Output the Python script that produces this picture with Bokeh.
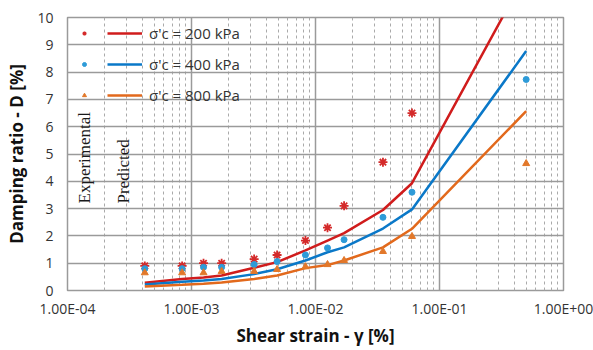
import math
from bokeh.plotting import figure
from bokeh.models import (FixedTicker, CustomJSTickFormatter, Legend, LegendItem,
                          Label, Range1d)
from bokeh.embed import file_html
from bokeh.resources import INLINE

# ---- data ----
strain = [4.2e-4, 8.4e-4, 1.25e-3, 1.75e-3, 3.2e-3, 4.9e-3, 8.3e-3,
          1.25e-2, 1.7e-2, 3.5e-2, 6.0e-2, 0.5]
strain_exp200 = strain[:11]

exp_200 = [0.9, 0.9, 1.0, 1.0, 1.15, 1.3, 1.83, 2.3, 3.1, 4.7, 6.5]
exp_400 = [0.8, 0.8, 0.85, 0.85, 0.95, 1.06, 1.3, 1.56, 1.86, 2.68, 3.6, 7.73]
exp_800 = [0.65, 0.65, 0.65, 0.7, 0.7, 0.77, 0.87, 0.95, 1.1, 1.43, 1.98, 4.65]

pred_200 = [0.28, 0.42, 0.48, 0.55, 0.83, 1.04, 1.47, 1.83, 2.1, 2.95, 3.93, 11.6]
pred_400 = [0.22, 0.32, 0.37, 0.42, 0.6, 0.78, 1.1, 1.4, 1.58, 2.27, 2.97, 8.77]
pred_800 = [0.15, 0.21, 0.25, 0.29, 0.42, 0.55, 0.82, 0.93, 1.1, 1.58, 2.26, 6.57]

series_labels = ["σ'c = 200 kPa", "σ'c = 400 kPa", "σ'c = 800 kPa"]
x_major = [1e-4, 1e-3, 1e-2, 1e-1, 1.0]
y_major = [0, 1, 2, 3, 4, 5, 6, 7, 8, 9, 10]
x_minor = [m * d for d in [1e-4, 1e-3, 1e-2, 1e-1] for m in range(2, 10)]

RED, BLUE, ORANGE = "#D01C1C", "#0A78C8", "#E2691C"
RED_M, BLUE_M, ORANGE_M = "#D42A2A", "#2E9BD8", "#E2782A"

p = figure(width=593, height=350, x_axis_type="log",
           x_range=Range1d(1e-4, 1.0), y_range=Range1d(0, 10),
           output_backend="svg", toolbar_location=None,
           min_border_left=67, min_border_right=30,
           min_border_top=17, min_border_bottom=60)

p.outline_line_color = "#9A9A9A"
p.outline_line_width = 1.5

# axes
p.xaxis.ticker = FixedTicker(ticks=x_major, minor_ticks=x_minor)
p.yaxis.ticker = FixedTicker(ticks=y_major, minor_ticks=[])
p.xaxis.formatter = CustomJSTickFormatter(code=r"""
const s = tick.toExponential(2).toUpperCase();
return s.replace(/E([+-])(\d)$/, (m, a, b) => "E" + a + "0" + b);
""")
for ax in (p.xaxis[0], p.yaxis[0]):
    ax.axis_line_color = None
    ax.major_tick_line_color = None
    ax.minor_tick_line_color = None
    ax.major_tick_out = 0
    ax.major_tick_in = 0
    ax.minor_tick_out = 0
    ax.minor_tick_in = 0
    ax.major_label_text_font = "Open Sans"
    ax.major_label_text_font_size = "14px"
    ax.major_label_text_color = "#333333"
    ax.axis_label_text_font = "Open Sans"
    ax.axis_label_text_font_size = "17px"
    ax.axis_label_text_font_style = "bold"
    ax.axis_label_text_color = "#111111"

p.xaxis.axis_label = "Shear strain - γ [%]"
p.yaxis.axis_label = "Damping ratio - D [%]"
p.xaxis.major_label_standoff = 8
p.xaxis.axis_label_standoff = 3
p.yaxis.major_label_standoff = 14
p.yaxis.axis_label_standoff = 6

# grid
p.xgrid.grid_line_color = "#9A9A9A"
p.xgrid.grid_line_width = 1.5
p.xgrid.minor_grid_line_color = "#AAAAAA"
p.xgrid.minor_grid_line_width = 1
p.xgrid.minor_grid_line_dash = "3 3"
p.ygrid.grid_line_color = "#9A9A9A"
p.ygrid.grid_line_width = 1.5

# predicted lines
l200 = p.line(strain, pred_200, line_color=RED, line_width=2.5)
l400 = p.line(strain, pred_400, line_color=BLUE, line_width=2.5)
l800 = p.line(strain, pred_800, line_color=ORANGE, line_width=2.5)

# experimental markers
s200 = p.scatter(strain_exp200, exp_200, marker="asterisk", size=9,
                 line_color=RED_M, line_width=1.8)
s400 = p.scatter(strain, exp_400, marker="circle", size=6,
                 fill_color=BLUE_M, line_color=BLUE_M)
s800 = p.scatter(strain, exp_800, marker="triangle", size=7,
                 fill_color=ORANGE_M, line_color=ORANGE_M)

def style_legend(lg):
    lg.background_fill_alpha = 0
    lg.border_line_alpha = 0
    lg.padding = 0
    lg.margin = 0
    lg.spacing = 11
    lg.glyph_height = 20
    lg.label_height = 20
    lg.label_text_font = "Open Sans"
    lg.label_text_font_size = "15px"
    lg.label_text_color = "#333333"

leg_m = Legend(items=[LegendItem(label=" ", renderers=[r]) for r in (s200, s400, s800)],
               location=(12, 185))
style_legend(leg_m)
leg_m.glyph_width = 10
leg_m.label_standoff = 0

leg_l = Legend(items=[LegendItem(label=t, renderers=[r])
                      for t, r in zip(series_labels, (l200, l400, l800))],
               location=(40, 185))
style_legend(leg_l)
leg_l.glyph_width = 35
leg_l.label_standoff = 7

p.add_layout(leg_m)
p.add_layout(leg_l)

for txt, xs in (("Experimental", 17), ("Predicted", 56)):
    p.add_layout(Label(x=xs, y=87, x_units="screen", y_units="screen", text=txt,
                       angle=math.pi / 2, text_align="left", text_baseline="middle",
                       text_font="Liberation Serif", text_font_size="17px",
                       text_color="#1A1A1A"))

open("out.html", "w").write(file_html(p, INLINE))
